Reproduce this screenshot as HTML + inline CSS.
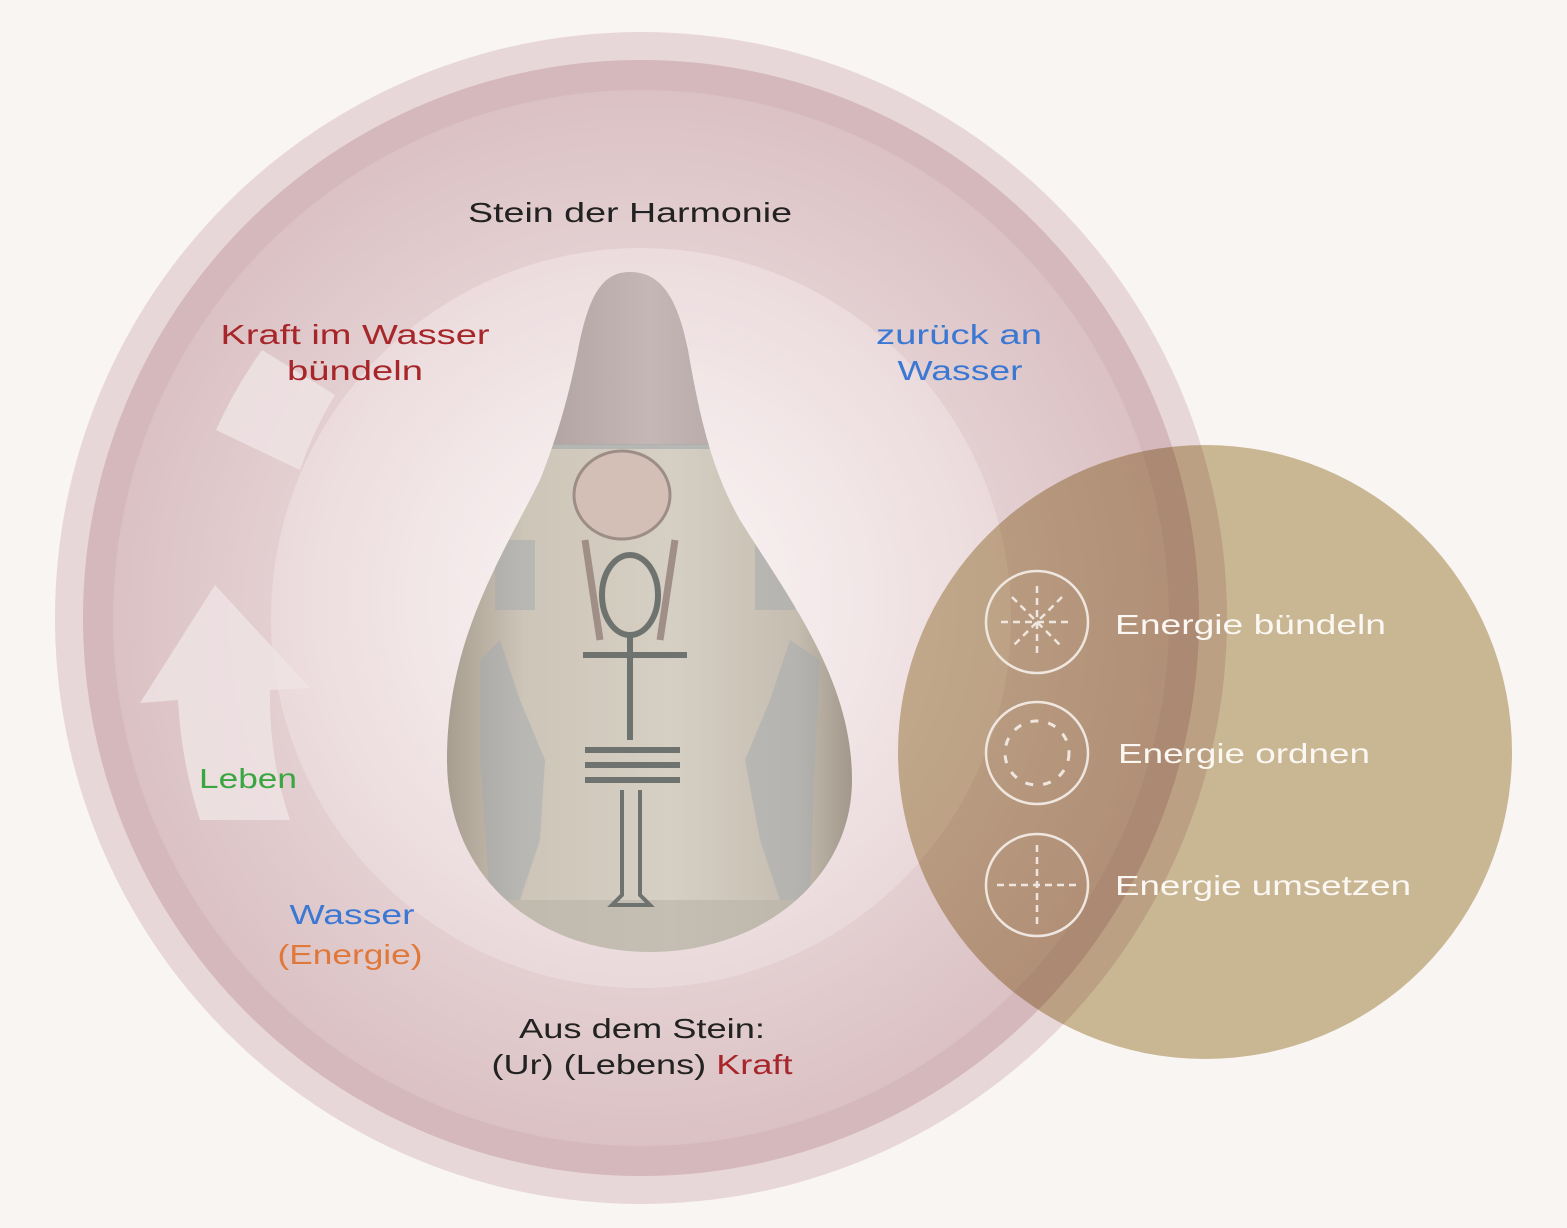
<!DOCTYPE html>
<html><head><meta charset="utf-8"><style>
html,body{margin:0;padding:0;background:#f9f5f2;}
svg{display:block}
text{font-family:"Liberation Sans",sans-serif;}
</style></head><body>
<svg width="1567" height="1228" viewBox="0 0 1567 1228" xmlns="http://www.w3.org/2000/svg">
<defs>
<radialGradient id="inner" cx="640" cy="600" r="380" gradientUnits="userSpaceOnUse">
<stop offset="0" stop-color="#fbf6f6"/><stop offset="0.6" stop-color="#f2e6e7"/><stop offset="1" stop-color="#ead9db"/>
</radialGradient>
<radialGradient id="ring" cx="641" cy="618" r="530" gradientUnits="userSpaceOnUse">
<stop offset="0.7" stop-color="#e3cfd1"/><stop offset="1" stop-color="#dbc1c4"/>
</radialGradient>
<linearGradient id="pear" x1="0" y1="0" x2="1" y2="0">
<stop offset="0" stop-color="#a49a8c"/><stop offset="0.2" stop-color="#cdc5b8"/><stop offset="0.55" stop-color="#d6cfc3"/><stop offset="0.85" stop-color="#c5bdb0"/><stop offset="1" stop-color="#9c9286"/>
</linearGradient>
<linearGradient id="cap" x1="0" y1="0" x2="1" y2="0">
<stop offset="0" stop-color="#9f9090"/><stop offset="0.5" stop-color="#c4b7b5"/><stop offset="1" stop-color="#9f9090"/>
</linearGradient>
<clipPath id="pc"><path d="M630 272 C600 272 588 300 578 350 C568 400 556 440 540 480 C500 560 447 640 447 760 C447 880 540 952 650 952 C760 952 852 880 852 780 C852 680 790 600 740 520 C712 470 700 420 688 350 C678 300 662 272 630 272Z"/></clipPath>
</defs>
<rect width="1567" height="1228" fill="#f9f5f2"/>
<circle cx="641" cy="618" r="586" fill="#e8d7d8"/>
<circle cx="641" cy="618" r="558" fill="#d5b8bc"/>
<circle cx="641" cy="618" r="528" fill="url(#ring)"/>
<circle cx="641" cy="618" r="370" fill="url(#inner)"/>
<!-- arc arrows -->
<path d="M300 470 L216 430 A470 470 0 0 1 262 350 L335 395 A375 375 0 0 0 300 470Z" fill="#efe3e4" opacity="0.85"/>
<path d="M200 820 A470 470 0 0 1 178 700 L140 703 L215 585 L310 688 L270 690 A380 380 0 0 0 290 820Z" fill="#efe3e4" opacity="0.85"/>
<!-- pear -->
<g clip-path="url(#pc)">
<rect x="440" y="265" width="420" height="700" fill="url(#pear)"/>
<rect x="440" y="265" width="420" height="180" fill="url(#cap)"/>
<rect x="440" y="444" width="420" height="5" fill="#a8aeae" opacity="0.7"/>
<g fill="#a3aab0" opacity="0.5">
<path d="M480 660 L500 640 L520 700 L545 760 L540 840 L520 900 L490 900 L480 760Z"/>
<path d="M820 660 L790 640 L770 700 L745 760 L760 840 L780 900 L810 900 L815 760Z"/>
<rect x="495" y="540" width="40" height="70"/><rect x="755" y="540" width="40" height="70"/>
</g>
<rect x="440" y="900" width="420" height="60" fill="#b9b3a8" opacity="0.6"/>
</g>
<ellipse cx="622" cy="495" rx="48" ry="44" fill="#d4bfb6" stroke="#9c8e86" stroke-width="3"/>
<g fill="none" stroke="#6f7370" stroke-width="6">
<ellipse cx="630" cy="595" rx="28" ry="40"/>
<line x1="583" y1="655" x2="687" y2="655"/>
<line x1="630" y1="635" x2="630" y2="740"/>
<line x1="585" y1="750" x2="680" y2="750"/><line x1="585" y1="765" x2="680" y2="765"/><line x1="585" y1="780" x2="680" y2="780"/>
<path d="M622 790 L622 895 L612 905 L650 905 L640 895 L640 790" stroke-width="4"/>
<path d="M585 540 L600 640 M675 540 L660 640" stroke="#a08f86" stroke-width="7"/>
</g>
<!-- brown circle -->
<circle cx="1205" cy="752" r="307" fill="rgb(206,190,155)" style="mix-blend-mode:multiply"/>
<!-- icons -->
<g fill="none" stroke="#efe7df" stroke-width="2.5">
<circle cx="1037" cy="622" r="51"/>
<circle cx="1037" cy="753" r="51"/>
<circle cx="1037" cy="885" r="51"/>
<g stroke-dasharray="7 5">
<line x1="1037" y1="586" x2="1037" y2="658"/><line x1="1001" y1="622" x2="1073" y2="622"/>
<line x1="1012" y1="597" x2="1062" y2="647"/><line x1="1062" y1="597" x2="1012" y2="647"/>
<line x1="1037" y1="845" x2="1037" y2="925"/><line x1="997" y1="885" x2="1077" y2="885"/>
</g>
<circle cx="1037" cy="753" r="32" stroke-width="3" stroke-dasharray="8 10"/>
</g>
<!-- texts -->
<g font-size="28" text-anchor="middle">
<text x="630" y="222" fill="#222" textLength="324" lengthAdjust="spacingAndGlyphs">Stein der Harmonie</text>
<text x="355" y="344" fill="#a6262a" textLength="269" lengthAdjust="spacingAndGlyphs">Kraft im Wasser</text>
<text x="355" y="380" fill="#a6262a" textLength="136" lengthAdjust="spacingAndGlyphs">bündeln</text>
<text x="959" y="344" fill="#3b78d4" textLength="166" lengthAdjust="spacingAndGlyphs">zurück an</text>
<text x="960" y="380" fill="#3b78d4" textLength="125" lengthAdjust="spacingAndGlyphs">Wasser</text>
<text x="248" y="788" fill="#3aa640" textLength="98" lengthAdjust="spacingAndGlyphs">Leben</text>
<text x="352" y="924" fill="#3b78d4" textLength="125" lengthAdjust="spacingAndGlyphs">Wasser</text>
<text x="350" y="964" fill="#e0783a" textLength="145" lengthAdjust="spacingAndGlyphs">(Energie)</text>
<text x="642" y="1038" fill="#222" textLength="246" lengthAdjust="spacingAndGlyphs">Aus dem Stein:</text>
<text x="642" y="1074" fill="#222" textLength="301" lengthAdjust="spacingAndGlyphs">(Ur) (Lebens) <tspan fill="#a6262a">Kraft</tspan></text>
</g>
<g font-size="28" fill="#fbf7f2">
<text x="1115" y="634" textLength="271" lengthAdjust="spacingAndGlyphs">Energie bündeln</text>
<text x="1118" y="763" textLength="252" lengthAdjust="spacingAndGlyphs">Energie ordnen</text>
<text x="1115" y="895" textLength="296" lengthAdjust="spacingAndGlyphs">Energie umsetzen</text>
</g>
</svg>
</body></html>
